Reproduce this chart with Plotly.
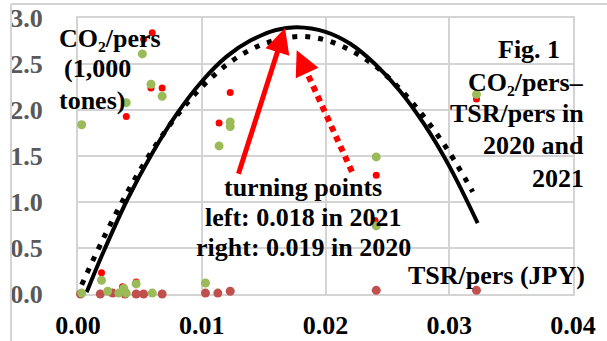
import plotly.graph_objects as go

# ---- data ----
green_x = [0.0003, 0.0052, 0.0059, 0.0068, 0.0039, 0.0123, 0.0123, 0.0114, 0.0241, 0.0241,
           0.0322, 0.0019, 0.0003, 0.0024, 0.0033, 0.0037, 0.0039, 0.0047, 0.0060, 0.0103]
green_y = [1.84, 2.61, 2.28, 2.15, 2.08, 1.87, 1.82, 1.61, 1.49, 0.74,
           2.17, 0.15, 0.01, 0.03, 0.01, 0.06, 0.01, 0.11, 0.01, 0.12]
red_x = [0.0060, 0.0053, 0.0059, 0.0068, 0.0039, 0.0123, 0.0114, 0.0241, 0.0240, 0.0322,
         0.0019, 0.0036, 0.0047]
red_y = [2.84, 2.77, 2.24, 2.24, 1.93, 2.19, 1.86, 1.29, 0.80, 2.12, 0.23, 0.08, 0.13]
brown_x = [0.0002, 0.0018, 0.0028, 0.0038, 0.0047, 0.0053, 0.0068, 0.0103, 0.0113, 0.0123,
           0.0241, 0.0322]
brown_y = [0.0, 0.0, 0.01, 0.0, 0.0, 0.0, 0.0, 0.01, 0.01, 0.03, 0.04, 0.04]

# trend curves
trend2021_x = [0.0007, 0.002, 0.004, 0.006, 0.008, 0.010, 0.012, 0.014, 0.016, 0.0177,
               0.020, 0.022, 0.024, 0.026, 0.028, 0.030, 0.0323]
trend2021_y = [0.02, 0.44, 1.03, 1.53, 1.96, 2.31, 2.58, 2.76, 2.87, 2.90,
               2.85, 2.72, 2.50, 2.21, 1.84, 1.39, 0.77]
trend2020_x = [0.0003, 0.002, 0.004, 0.006, 0.008, 0.010, 0.012, 0.014, 0.016, 0.018,
               0.020, 0.022, 0.024, 0.026, 0.028, 0.030, 0.0319]
trend2020_y = [0.10, 0.59, 1.11, 1.56, 1.94, 2.25, 2.49, 2.66, 2.76, 2.80,
               2.76, 2.65, 2.48, 2.23, 1.92, 1.54, 1.11]

# arrows: [tail_x, tail_y, tip_x, tip_y]
arrow_left = [0.01293, 1.29, 0.01673, 2.89]
arrow_right = [0.02214, 1.33, 0.01767, 2.65]
arrow_right_head_base = [0.01834, 2.454]

x_ticks = [0.00, 0.01, 0.02, 0.03, 0.04]
y_ticks = [0.0, 0.5, 1.0, 1.5, 2.0, 2.5, 3.0]

y_title_lines = ["CO₂/pers", "(1,000", "tones)"]
fig_title_lines = ["Fig. 1", "CO₂/pers–", "TSR/pers in", "2020 and", "2021"]
note_lines = ["turning points", "left: 0.018 in 2021", "right: 0.019 in 2020"]
x_title = "TSR/pers (JPY)"

FONT = "Liberation Serif, Times New Roman, serif"
GRID = "#D4D4D4"
W, H = 607, 341
L, R, T, B = 78, 34, 18, 47
PW, PH = W - L - R, H - T - B


def px(xp):
    return (xp - L) / PW


def py(yp):
    return (H - B - yp) / PH


fig = go.Figure()
fig.add_trace(go.Scatter(x=trend2021_x, y=trend2021_y, mode="lines", line_shape="spline",
                         line=dict(color="black", width=4), cliponaxis=False, hoverinfo="skip"))
fig.add_trace(go.Scatter(x=trend2020_x, y=trend2020_y, mode="lines", line_shape="spline",
                         line=dict(color="black", width=5, dash="5px,8px"), cliponaxis=False,
                         hoverinfo="skip"))
fig.add_trace(go.Scatter(x=brown_x, y=brown_y, mode="markers", cliponaxis=False,
                         marker=dict(color="#C0504D", size=9)))
fig.add_trace(go.Scatter(x=red_x, y=red_y, mode="markers", cliponaxis=False,
                         marker=dict(color="#FF0000", size=7)))
fig.add_trace(go.Scatter(x=green_x, y=green_y, mode="markers", cliponaxis=False,
                         marker=dict(color="#9BBB59", size=9)))

# dashed arrow shaft
fig.add_shape(type="line", xref="x", yref="y",
              x0=arrow_right[0], y0=arrow_right[1],
              x1=arrow_right_head_base[0], y1=arrow_right_head_base[1],
              line=dict(color="#FF0000", width=6, dash="6px,5px"))
# outer chart border (top and left edges visible)
fig.add_shape(type="line", xref="paper", yref="paper", x0=px(11), y0=py(4), x1=px(640), y1=py(4),
              line=dict(color=GRID, width=2))
fig.add_shape(type="line", xref="paper", yref="paper", x0=px(11), y0=py(4), x1=px(11), y1=py(360),
              line=dict(color=GRID, width=2))

anns = []
anns.append(dict(x=arrow_left[2], y=arrow_left[3], ax=arrow_left[0], ay=arrow_left[1],
                 xref="x", yref="y", axref="x", ayref="y", text="", showarrow=True,
                 arrowhead=2, arrowsize=1, arrowwidth=5, arrowcolor="#FF0000", standoff=0))
anns.append(dict(x=arrow_right[2], y=arrow_right[3], ax=arrow_right_head_base[0],
                 ay=arrow_right_head_base[1], xref="x", yref="y", axref="x", ayref="y",
                 text="", showarrow=True, arrowhead=2, arrowsize=1, arrowwidth=5,
                 arrowcolor="#FF0000", standoff=0))

tfont = dict(family=FONT, size=26, color="black", weight="bold")


def label(text, x, y, anchor):
    anns.append(dict(xref="paper", yref="paper", x=px(x), y=py(y), xanchor=anchor,
                     yanchor="middle", showarrow=False, font=tfont, text=text))


for t, xx, yy in zip(y_title_lines, [57, 62, 57], [38, 68, 100]):
    label(t, xx, yy, "left")
for i, (t, yy) in enumerate(zip(fig_title_lines, [50, 82, 113, 145, 178])):
    if i == 0:
        label(t, 529, yy, "center")
    else:
        label(t, 586, yy, "right")
for t, yy in zip(note_lines, [187, 217, 247]):
    label(t, 303, yy, "center")
label(x_title, 496, 275, "center")

fig.update_layout(
    width=W, height=H, autosize=False,
    margin=dict(l=L, r=R, t=T, b=B, autoexpand=False),
    paper_bgcolor="white", plot_bgcolor="white",
    showlegend=False, annotations=anns,
    xaxis=dict(range=[0, 0.04], tickvals=x_ticks, tickformat=".2f", automargin=False,
               showgrid=True, gridcolor=GRID, gridwidth=2, zeroline=False,
               showline=True, linecolor=GRID, linewidth=2, mirror=True,
               ticks="", ticklabelstandoff=7, layer="below traces",
               tickfont=dict(family=FONT, size=26, color="black", weight="bold")),
    yaxis=dict(range=[0, 3.0], tickvals=y_ticks, tickformat=".1f", automargin=False,
               showgrid=True, gridcolor=GRID, gridwidth=2, zeroline=False,
               showline=True, linecolor=GRID, linewidth=2, mirror=True,
               ticks="", ticklabelstandoff=28, layer="below traces",
               tickfont=dict(family=FONT, size=26, color="#595959", weight="bold")),
)

fig.write_html("out.html", config={"displayModeBar": False},
               post_script="document.body.style.margin='0';document.body.style.padding='0';")
